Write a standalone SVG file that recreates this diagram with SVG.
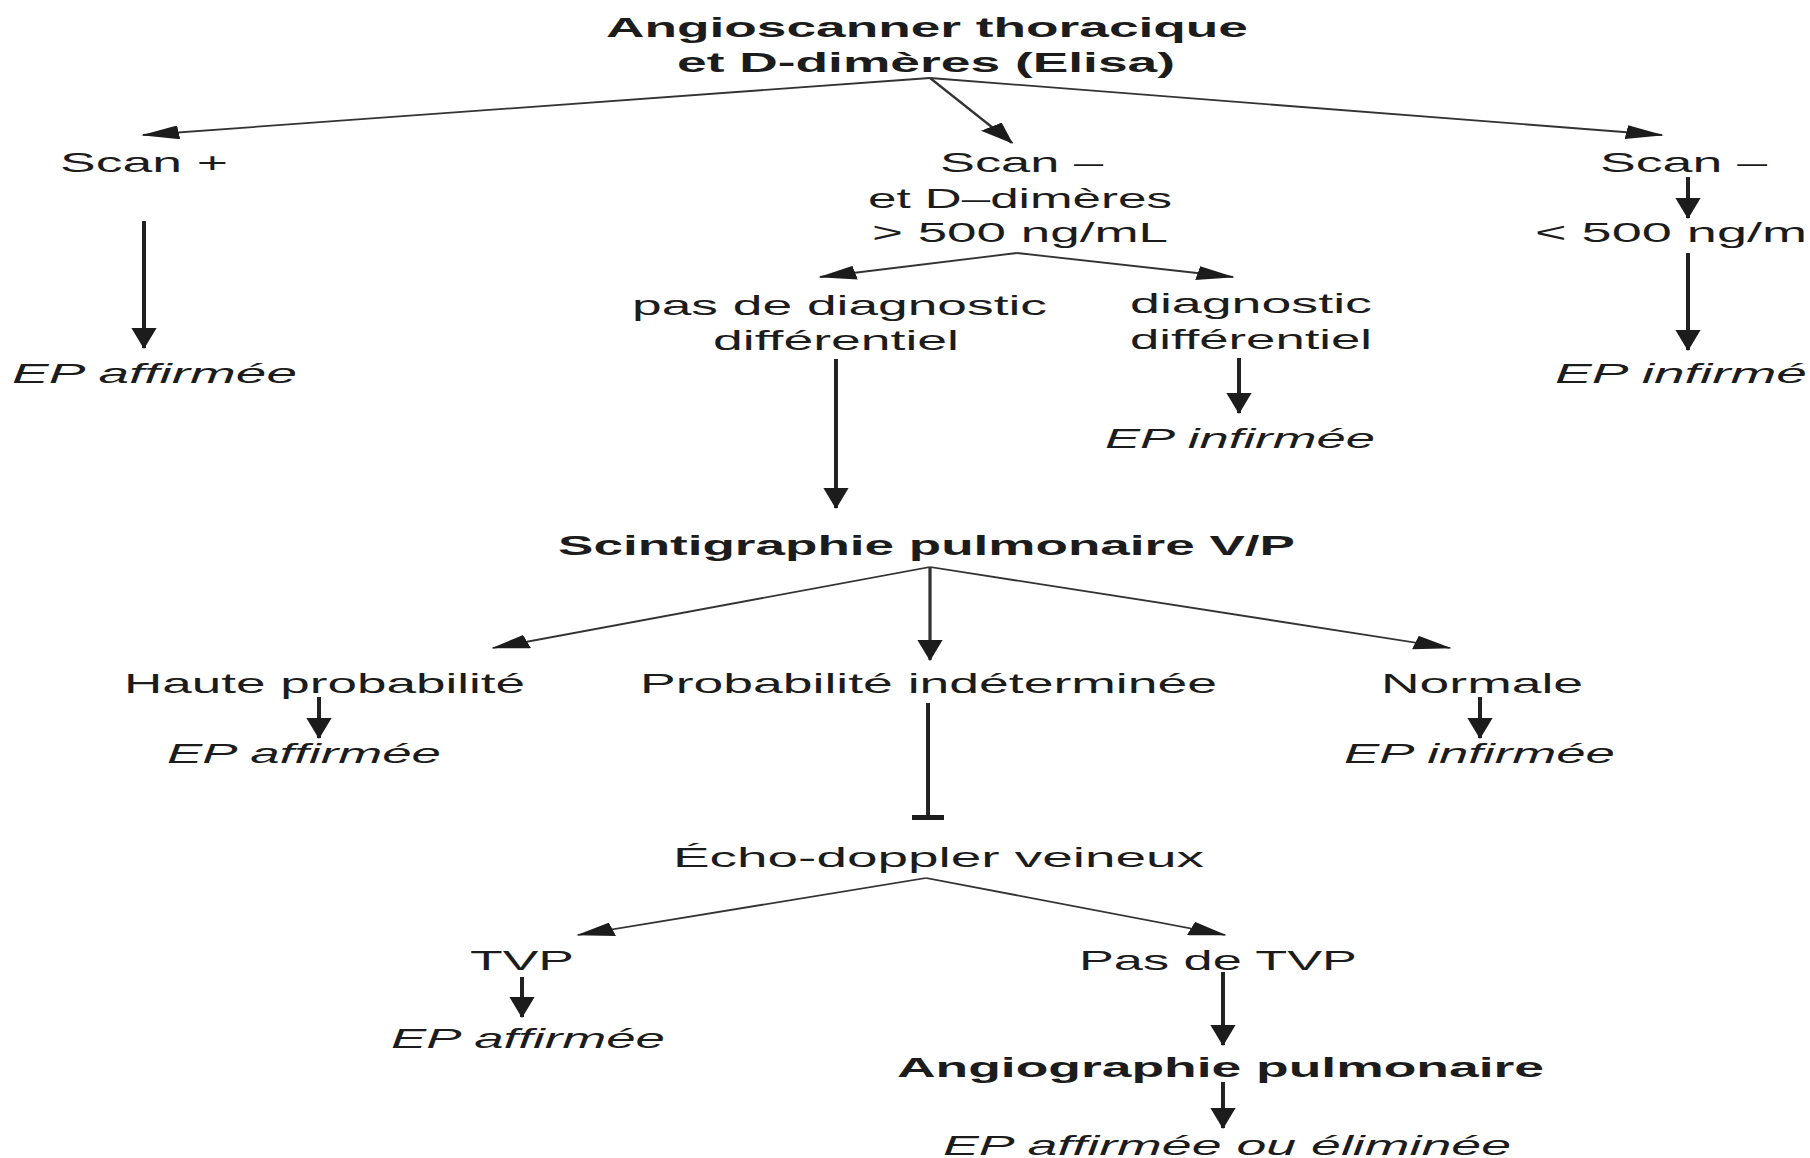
<svg xmlns="http://www.w3.org/2000/svg" width="1810" height="1158" viewBox="0 0 1810 1158">
<style>
text{font-family:"Liberation Sans",Arial,Helvetica,sans-serif;font-size:28px;fill:#1c1c1c}
.b{font-weight:bold}
.i{font-style:italic}
.c line{stroke:#222;stroke-width:2.2;fill:none}
.c line.d{stroke:#333;stroke-width:1.8}
</style>
<defs>
<marker id="ah" viewBox="0 0 21 14" markerWidth="21" markerHeight="14" refX="20" refY="7" orient="auto" markerUnits="userSpaceOnUse"><path d="M0,0 L21,7 L0,14 Z" fill="#1c1c1c"/></marker>
<marker id="tee" viewBox="0 0 5 18" markerWidth="5" markerHeight="18" refX="5" refY="9" orient="auto" markerUnits="userSpaceOnUse"><rect x="0" y="0" width="5" height="18" fill="#1c1c1c"/></marker>
</defs>
<rect width="1810" height="1158" fill="#fff"/>

<g id="connectors" class="c" transform="scale(1.8 1)">
<line class="d" x1="516.67" y1="78" x2="79.44" y2="135" marker-end="url(#ah)"/>
<line class="d" x1="516.67" y1="78" x2="562.22" y2="143" marker-end="url(#ah)"/>
<line class="d" x1="516.67" y1="78" x2="923.33" y2="135" marker-end="url(#ah)"/>
<line x1="80" y1="221" x2="80" y2="348" marker-end="url(#ah)"/>
<line x1="937.78" y1="177" x2="937.78" y2="218" marker-end="url(#ah)"/>
<line x1="937.78" y1="253" x2="937.78" y2="350" marker-end="url(#ah)"/>
<line class="d" x1="565" y1="253" x2="455.56" y2="277" marker-end="url(#ah)"/>
<line class="d" x1="565" y1="253" x2="685" y2="277" marker-end="url(#ah)"/>
<line x1="688.33" y1="358" x2="688.33" y2="413" marker-end="url(#ah)"/>
<line x1="464.44" y1="359" x2="464.44" y2="508" marker-end="url(#ah)"/>
<line class="d" x1="516.67" y1="567" x2="273.89" y2="648" marker-end="url(#ah)"/>
<line class="d" x1="516.67" y1="567" x2="516.67" y2="660" marker-end="url(#ah)"/>
<line class="d" x1="516.67" y1="567" x2="805.56" y2="648" marker-end="url(#ah)"/>
<line x1="177.22" y1="697" x2="177.22" y2="738" marker-end="url(#ah)"/>
<line x1="822.22" y1="697" x2="822.22" y2="738" marker-end="url(#ah)"/>
<line x1="515.56" y1="703" x2="515.56" y2="820" marker-end="url(#tee)"/>
<line class="d" x1="514.44" y1="878" x2="321.11" y2="935" marker-end="url(#ah)"/>
<line class="d" x1="514.44" y1="878" x2="680.56" y2="935" marker-end="url(#ah)"/>
<line x1="290" y1="977" x2="290" y2="1017" marker-end="url(#ah)"/>
<line x1="679.44" y1="972" x2="679.44" y2="1045" marker-end="url(#ah)"/>
<line x1="679.44" y1="1082" x2="679.44" y2="1128" marker-end="url(#ah)"/>
</g>

<g id="n-angioscanner">
<text class="b" x="606" y="37" textLength="642" lengthAdjust="spacingAndGlyphs">Angioscanner thoracique</text>
<text class="b" x="677" y="72" textLength="498" lengthAdjust="spacingAndGlyphs">et D-dimères (Elisa)</text>
</g>
<g id="n-scan-pos"><text x="60" y="172" textLength="168" lengthAdjust="spacingAndGlyphs">Scan +</text></g>
<g id="n-ep-affirmee-1"><text class="i" x="12" y="383" textLength="285" lengthAdjust="spacingAndGlyphs">EP affirmée</text></g>
<g id="n-scan-neg-sup">
<text x="940" y="172" textLength="163" lengthAdjust="spacingAndGlyphs">Scan –</text>
<text x="868" y="208" textLength="304" lengthAdjust="spacingAndGlyphs">et D–dimères</text>
<text x="872" y="242" textLength="296" lengthAdjust="spacingAndGlyphs">&gt; 500 ng/mL</text>
</g>
<g id="n-scan-neg-inf"><text x="1600" y="172" textLength="167" lengthAdjust="spacingAndGlyphs">Scan –</text></g>
<g id="n-inf-500"><text x="1535" y="242" textLength="272" lengthAdjust="spacingAndGlyphs">&lt; 500 ng/m</text></g>
<g id="n-ep-infirmee-1"><text class="i" x="1555" y="383" textLength="252" lengthAdjust="spacingAndGlyphs">EP infirmé</text></g>
<g id="n-pas-diag">
<text x="632" y="315" textLength="415" lengthAdjust="spacingAndGlyphs">pas de diagnostic</text>
<text x="713" y="350" textLength="246" lengthAdjust="spacingAndGlyphs">différentiel</text>
</g>
<g id="n-diag">
<text x="1130" y="313" textLength="242" lengthAdjust="spacingAndGlyphs">diagnostic</text>
<text x="1130" y="349" textLength="242" lengthAdjust="spacingAndGlyphs">différentiel</text>
</g>
<g id="n-ep-infirmee-2"><text class="i" x="1105" y="448" textLength="270" lengthAdjust="spacingAndGlyphs">EP infirmée</text></g>
<g id="n-scintigraphie"><text class="b" x="558" y="555" textLength="737" lengthAdjust="spacingAndGlyphs">Scintigraphie pulmonaire V/P</text></g>
<g id="n-haute"><text x="124" y="693" textLength="401" lengthAdjust="spacingAndGlyphs">Haute probabilité</text></g>
<g id="n-indeterminee"><text x="640" y="693" textLength="577" lengthAdjust="spacingAndGlyphs">Probabilité indéterminée</text></g>
<g id="n-normale"><text x="1381" y="693" textLength="202" lengthAdjust="spacingAndGlyphs">Normale</text></g>
<g id="n-ep-affirmee-2"><text class="i" x="167" y="763" textLength="274" lengthAdjust="spacingAndGlyphs">EP affirmée</text></g>
<g id="n-ep-infirmee-3"><text class="i" x="1344" y="763" textLength="271" lengthAdjust="spacingAndGlyphs">EP infirmée</text></g>
<g id="n-echo"><text x="673" y="867" textLength="531" lengthAdjust="spacingAndGlyphs">Écho-doppler veineux</text></g>
<g id="n-tvp"><text x="470" y="970" textLength="104" lengthAdjust="spacingAndGlyphs">TVP</text></g>
<g id="n-pas-tvp"><text x="1079" y="970" textLength="278" lengthAdjust="spacingAndGlyphs">Pas de TVP</text></g>
<g id="n-ep-affirmee-3"><text class="i" x="391" y="1048" textLength="274" lengthAdjust="spacingAndGlyphs">EP affirmée</text></g>
<g id="n-angiographie"><text class="b" x="897" y="1077" textLength="647" lengthAdjust="spacingAndGlyphs">Angiographie pulmonaire</text></g>
<g id="n-ep-final"><text class="i" x="943" y="1155" textLength="568" lengthAdjust="spacingAndGlyphs">EP affirmée ou éliminée</text></g>
</svg>
